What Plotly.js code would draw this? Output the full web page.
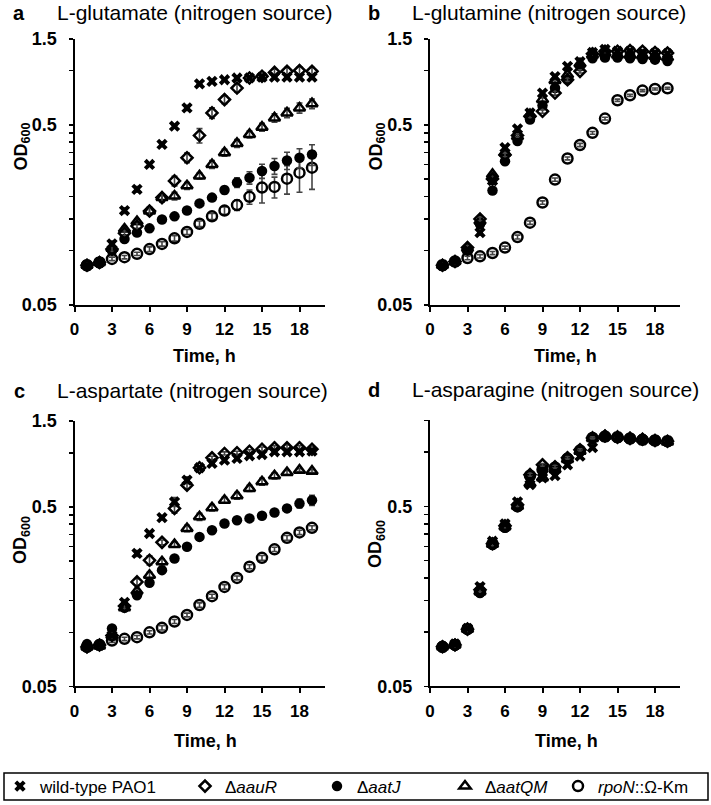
<!DOCTYPE html>
<html>
<head>
<meta charset="utf-8">
<script src="https://cdn.plot.ly/plotly-3.0.1.min.js"></script>
<style>html,body{margin:0;padding:0;background:#fff;}#chart{width:711px;height:805px;}</style>
</head>
<body>
<div id="chart"></div>
<script>
// ---------------- DATA ----------------
const time = [1,2,3,4,5,6,7,8,9,10,11,12,13,14,15,16,17,18,19];
const strainNames = ["wild-type PAO1", "Δ<i>aauR</i>", "Δ<i>aatJ</i>", "Δ<i>aatQM</i>", "<i>rpoN</i>::Ω-Km"];
const panelLetters = ["a", "b", "c", "d"];
const panelTitles = ["L-glutamate (nitrogen source)", "L-glutamine (nitrogen source)", "L-aspartate (nitrogen source)", "L-asparagine (nitrogen source)"];
const xTickVals = [0,3,6,9,12,15,18];
const yLabelVals = [0.05,0.5,1.5];
const yLabelText = ["0.05","0.5","1.5"];
const yLabelValsD = [0.05,0.5];
const yLabelTextD = ["0.05","0.5"];
const yMinorVals = [0.1,0.15,0.2,0.25,0.3,0.35,0.4,0.45,1.0];
const yMinorValsD = [0.1,0.15,0.2,0.25,0.3,0.35,0.4,0.45,1.0,1.5];

// Panel a: L-glutamate
const a_wt    = [0.083,0.086,0.109,0.167,0.219,0.301,0.389,0.491,0.620,0.844,0.871,0.889,0.909,0.910,0.920,0.920,0.920,0.920,0.920];
const a_aauR  = [0.083,0.086,0.102,0.125,0.137,0.166,0.197,0.244,0.328,0.436,0.582,0.690,0.800,0.910,0.930,0.977,0.990,1.000,0.990];
const a_aatJ  = [0.082,0.085,0.100,0.116,0.126,0.133,0.149,0.155,0.167,0.183,0.197,0.217,0.239,0.254,0.277,0.295,0.317,0.328,0.342];
const a_aatQM = [0.083,0.086,0.103,0.132,0.145,0.166,0.197,0.201,0.229,0.260,0.301,0.350,0.394,0.442,0.485,0.546,0.582,0.620,0.655];
const a_rpoN  = [0.083,0.086,0.090,0.092,0.096,0.102,0.109,0.117,0.127,0.141,0.155,0.167,0.179,0.199,0.224,0.226,0.251,0.271,0.289];
const a_wt_err    = [0.002,0.002,0.004,0.006,0.008,0.006,0.010,0.010,0.020,0.010,0.010,0.010,0.020,0.010,0.010,0.020,0.020,0.020,0.020];
const a_aauR_err  = [0.002,0.002,0.003,0.004,0.005,0.008,0.010,0.015,0.020,0.040,0.040,0.035,0.040,0.020,0.030,0.040,0.050,0.050,0.050];
const a_aatJ_err  = [0.002,0.002,0.003,0.004,0.004,0.004,0.004,0.004,0.005,0.005,0.006,0.010,0.015,0.020,0.025,0.030,0.035,0.040,0.045];
const a_aatQM_err = [0.002,0.002,0.003,0.004,0.005,0.006,0.010,0.010,0.010,0.010,0.015,0.015,0.020,0.020,0.025,0.030,0.035,0.040,0.040];
const a_rpoN_err  = [0.002,0.002,0.002,0.002,0.002,0.003,0.003,0.004,0.004,0.005,0.006,0.008,0.012,0.018,0.040,0.030,0.045,0.060,0.070];

// Panel b: L-glutamine
const b_wt    = [0.083,0.087,0.101,0.126,0.245,0.373,0.474,0.582,0.750,0.926,1.055,1.120,1.260,1.310,1.280,1.280,1.260,1.250,1.240];
const b_aauR  = [0.083,0.087,0.104,0.150,0.250,0.340,0.436,0.558,0.594,0.750,0.889,0.990,1.240,1.280,1.280,1.290,1.280,1.260,1.250];
const b_aatJ  = [0.083,0.087,0.100,0.140,0.216,0.314,0.406,0.535,0.639,0.800,0.889,1.055,1.170,1.180,1.180,1.170,1.160,1.150,1.130];
const b_aatQM = [0.083,0.087,0.103,0.146,0.265,0.350,0.430,0.570,0.690,0.880,0.948,1.090,1.220,1.250,1.220,1.220,1.210,1.200,1.180];
const b_rpoN  = [0.083,0.087,0.091,0.093,0.097,0.104,0.119,0.143,0.185,0.248,0.325,0.386,0.451,0.541,0.684,0.729,0.774,0.790,0.797];
const b_wt_err    = [0.002,0.002,0.003,0.004,0.006,0.008,0.010,0.010,0.015,0.020,0.020,0.020,0.020,0.020,0.020,0.020,0.020,0.020,0.020];
const b_aauR_err  = [0.002,0.002,0.003,0.004,0.006,0.008,0.010,0.010,0.015,0.020,0.020,0.020,0.020,0.020,0.020,0.020,0.020,0.020,0.020];
const b_aatJ_err  = [0.002,0.002,0.003,0.004,0.006,0.008,0.010,0.010,0.015,0.020,0.020,0.020,0.020,0.020,0.020,0.020,0.020,0.020,0.020];
const b_aatQM_err = [0.002,0.002,0.003,0.004,0.006,0.008,0.010,0.010,0.015,0.020,0.020,0.020,0.020,0.020,0.020,0.020,0.020,0.020,0.020];
const b_rpoN_err  = [0.002,0.002,0.002,0.002,0.002,0.002,0.003,0.003,0.004,0.005,0.006,0.008,0.008,0.010,0.010,0.010,0.010,0.010,0.010];

// Panel c: L-aspartate
const c_wt    = [0.083,0.085,0.096,0.147,0.275,0.355,0.435,0.533,0.704,0.825,0.872,0.909,0.930,0.962,0.978,1.013,1.013,1.013,1.020];
const c_aauR  = [0.083,0.085,0.096,0.140,0.191,0.252,0.317,0.490,0.660,0.825,0.937,0.991,1.000,1.020,1.047,1.066,1.066,1.066,1.047];
const c_aatJ  = [0.086,0.086,0.105,0.137,0.161,0.189,0.222,0.258,0.300,0.340,0.370,0.404,0.421,0.431,0.446,0.465,0.490,0.522,0.544];
const c_aatQM = [0.083,0.084,0.096,0.137,0.170,0.208,0.247,0.308,0.379,0.440,0.494,0.544,0.576,0.633,0.690,0.744,0.777,0.800,0.790];
const c_rpoN  = [0.083,0.085,0.090,0.092,0.094,0.100,0.106,0.115,0.125,0.142,0.159,0.179,0.201,0.232,0.260,0.290,0.336,0.360,0.382];
const c_wt_err    = [0.002,0.002,0.003,0.005,0.010,0.010,0.010,0.030,0.030,0.020,0.020,0.020,0.020,0.020,0.030,0.030,0.030,0.030,0.030];
const c_aauR_err  = [0.002,0.002,0.003,0.005,0.008,0.015,0.010,0.030,0.030,0.020,0.020,0.020,0.020,0.020,0.030,0.030,0.040,0.030,0.040];
const c_aatJ_err  = [0.002,0.002,0.003,0.004,0.005,0.005,0.005,0.006,0.008,0.008,0.008,0.010,0.010,0.010,0.012,0.015,0.020,0.030,0.035];
const c_aatQM_err = [0.002,0.002,0.003,0.004,0.005,0.008,0.010,0.010,0.015,0.020,0.020,0.020,0.025,0.025,0.030,0.030,0.020,0.015,0.015];
const c_rpoN_err  = [0.002,0.002,0.002,0.002,0.002,0.002,0.003,0.003,0.003,0.004,0.004,0.005,0.005,0.006,0.008,0.008,0.010,0.010,0.010];

// Panel d: L-asparagine
const d_wt    = [0.083,0.086,0.105,0.179,0.320,0.400,0.530,0.660,0.720,0.740,0.850,0.950,1.060,1.220,1.210,1.190,1.170,1.160,1.150];
const d_aauR  = [0.083,0.085,0.104,0.172,0.310,0.390,0.510,0.750,0.850,0.830,0.930,1.030,1.200,1.230,1.210,1.190,1.180,1.160,1.150];
const d_aatJ  = [0.082,0.084,0.103,0.165,0.305,0.380,0.495,0.730,0.810,0.830,0.930,1.030,1.210,1.220,1.210,1.190,1.170,1.160,1.150];
const d_aatQM = [0.083,0.085,0.104,0.168,0.308,0.385,0.500,0.670,0.720,0.800,0.910,1.010,1.190,1.230,1.220,1.200,1.180,1.160,1.140];
const d_rpoN  = [0.083,0.085,0.104,0.168,0.310,0.385,0.500,0.740,0.800,0.820,0.920,1.020,1.200,1.220,1.210,1.190,1.170,1.160,1.150];
const d_wt_err    = [0.002,0.002,0.003,0.005,0.008,0.010,0.010,0.015,0.015,0.015,0.015,0.015,0.015,0.015,0.015,0.015,0.015,0.015,0.015];
const d_aauR_err  = [0.002,0.002,0.003,0.005,0.008,0.010,0.010,0.015,0.015,0.015,0.015,0.015,0.015,0.015,0.015,0.015,0.015,0.015,0.015];
const d_aatJ_err  = [0.002,0.002,0.003,0.005,0.008,0.010,0.010,0.015,0.015,0.015,0.015,0.015,0.015,0.015,0.015,0.015,0.015,0.015,0.015];
const d_aatQM_err = [0.002,0.002,0.003,0.005,0.008,0.010,0.010,0.015,0.015,0.015,0.015,0.015,0.015,0.015,0.015,0.015,0.015,0.015,0.015];
const d_rpoN_err  = [0.002,0.002,0.003,0.005,0.008,0.010,0.010,0.015,0.015,0.015,0.015,0.015,0.015,0.015,0.015,0.015,0.015,0.015,0.015];

// ---------------- BUILD ----------------
const W = 711, H = 805;
const px = x => x / W;
const py = y => 1 - y / H;
const FONT = "Arial, 'Liberation Sans', Helvetica, sans-serif";

const panelSeries = [
  [[a_wt,a_wt_err],[a_aauR,a_aauR_err],[a_aatJ,a_aatJ_err],[a_aatQM,a_aatQM_err],[a_rpoN,a_rpoN_err]],
  [[b_wt,b_wt_err],[b_aauR,b_aauR_err],[b_aatJ,b_aatJ_err],[b_aatQM,b_aatQM_err],[b_rpoN,b_rpoN_err]],
  [[c_wt,c_wt_err],[c_aauR,c_aauR_err],[c_aatJ,c_aatJ_err],[c_aatQM,c_aatQM_err],[c_rpoN,c_rpoN_err]],
  [[d_wt,d_wt_err],[d_aauR,d_aauR_err],[d_aatJ,d_aatJ_err],[d_aatQM,d_aatQM_err],[d_rpoN,d_rpoN_err]]
];

const markerStyles = [
  {symbol:"x", size:10, color:"#000", line:{width:0}},
  {symbol:"diamond-open", size:8.5, color:"#000", line:{width:2.5, color:"#000"}},
  {symbol:"circle", size:10.5, color:"#000", line:{width:0}},
  {symbol:"triangle-up-open", size:10, color:"#000", line:{width:2.5, color:"#000"}},
  {symbol:"circle-open", size:10, color:"#000", line:{width:2.5, color:"#000"}}
];
const drawOrder = [4,3,2,1,0];
const legendIds = ["legend","legend2","legend3","legend4","legend5"];

const traces = [];
for (let p = 0; p < 4; p++) {
  const sfx = p === 0 ? "" : String(p + 1);
  for (const s of drawOrder) {
    const [vals, errs] = panelSeries[p][s];
    traces.push({
      type: "scatter", mode: "markers",
      x: time, y: vals,
      xaxis: "x" + sfx, yaxis: "y" + sfx,
      name: strainNames[s],
      showlegend: p === 0,
      legend: legendIds[s],
      marker: markerStyles[s],
      error_y: {type:"data", array: errs, visible:true, color:"#444", thickness:1.6, width:3},
      hoverinfo: "x+y"
    });
  }
}

// panel geometry (pixels)
const xDom = [[74.5,324.5],[430,680],[74.5,324.5],[430,680]];
const yDom = [[39,306],[39,306],[422.7,689],[422,689]];

const layout = {
  width: W, height: H,
  margin: {l:0, r:0, t:0, b:0},
  paper_bgcolor: "#fff", plot_bgcolor: "rgba(0,0,0,0)",
  font: {family: FONT, color: "#000"},
  annotations: [], shapes: []
};

for (let p = 0; p < 4; p++) {
  const sfx = p === 0 ? "" : String(p + 1);
  layout["xaxis" + sfx] = {
    domain: [px(xDom[p][0]), px(xDom[p][1])],
    anchor: "y" + sfx,
    range: [0, 20], tickvals: xTickVals,
    showgrid: false, zeroline: false,
    showline: true, linecolor: "#000", linewidth: 2,
    ticks: "outside", ticklen: 5, tickwidth: 2, tickcolor: "#000",
    tickfont: {family: FONT, size: 17, color: "#000", weight: "bold"},
    ticklabelstandoff: 3
  };
  layout["yaxis" + sfx] = {
    domain: [py(yDom[p][1]), py(yDom[p][0])],
    anchor: "x" + sfx,
    type: "log",
    range: [Math.log10(0.05), Math.log10(1.5)],
    tickvals: p === 3 ? yLabelValsD : yLabelVals,
    ticktext: p === 3 ? yLabelTextD : yLabelText,
    minor: {tickvals: p === 3 ? yMinorValsD : yMinorVals, ticks: "outside", ticklen: 4, tickwidth: 1.5, tickcolor: "#000", showgrid: false},
    showgrid: false, zeroline: false,
    showline: true, linecolor: "#000", linewidth: 2,
    ticks: "outside", ticklen: 4, tickwidth: 1.5, tickcolor: "#000",
    tickfont: {family: FONT, size: 18, color: "#000", weight: "bold"},
    ticklabelstandoff: 8
  };
}

// panel letters + titles
const titlePos = [[19,55,13],[374,410,13],[19,55,392],[374,410,391]];
for (let p = 0; p < 4; p++) {
  const [lx, tx, ty] = titlePos[p];
  layout.annotations.push({
    xref:"paper", yref:"paper", x: px(lx), y: py(ty), xanchor:"center", yanchor:"middle",
    text: "<b>" + panelLetters[p] + "</b>", showarrow:false,
    font:{family:FONT, size:20, color:"#000"}
  });
  layout.annotations.push({
    xref:"paper", yref:"paper", x: px(tx), y: py(ty), xanchor:"left", yanchor:"middle",
    text: panelTitles[p], showarrow:false,
    font:{family:FONT, size:21, color:"#000"}
  });
}
// axis titles
const yTitlePos = [[22,147],[377,147],[22,542],[377,546]];
const xTitlePos = [[204,357],[565,357],[205,744],[566,744]];
for (let p = 0; p < 4; p++) {
  layout.annotations.push({
    xref:"paper", yref:"paper", x: px(yTitlePos[p][0]), y: py(yTitlePos[p][1]),
    xanchor:"center", yanchor:"middle", textangle:-90,
    text: "<b>OD<sub>600</sub></b>", showarrow:false,
    font:{family:FONT, size:18, color:"#000"}
  });
  layout.annotations.push({
    xref:"paper", yref:"paper", x: px(xTitlePos[p][0]), y: py(xTitlePos[p][1]),
    xanchor:"center", yanchor:"middle",
    text: "<b>Time, h</b>", showarrow:false,
    font:{family:FONT, size:18, color:"#000"}
  });
}

// legends (one per strain) inside a common frame
const legendX = [0, 185, 317, 445, 558];
for (let s = 0; s < 5; s++) {
  layout[legendIds[s]] = {
    x: px(legendX[s]), y: py(789.5), xanchor:"left", yanchor:"middle",
    orientation:"h", bgcolor:"rgba(0,0,0,0)", borderwidth:0,
    font:{family:FONT, size:17, color:"#000"}
  };
}
layout.shapes.push({
  type:"rect", xref:"paper", yref:"paper",
  x0: px(4), x1: px(708), y0: py(803), y1: py(776),
  line:{color:"#000", width:1.5}, fillcolor:"rgba(0,0,0,0)"
});

Plotly.newPlot("chart", traces, layout, {staticPlot:true, displayModeBar:false});
</script>
</body>
</html>
